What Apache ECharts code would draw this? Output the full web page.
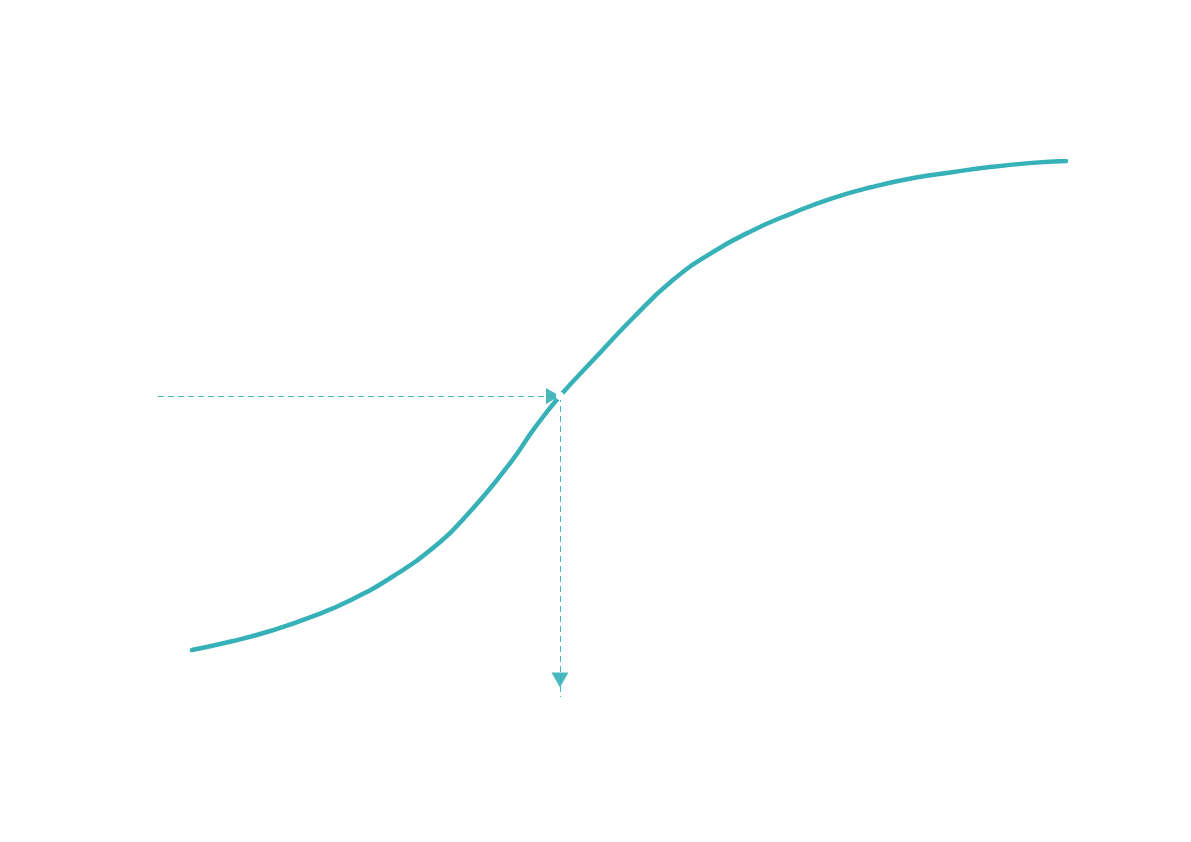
<!DOCTYPE html>
<html>
<head>
<meta charset="utf-8">
<script src="https://cdn.jsdelivr.net/npm/echarts@6/dist/echarts.min.js"></script>
<style>html,body{margin:0;padding:0;background:#fff;}#chart{width:1191px;height:842px;}</style>
</head>
<body>
<div id="chart"></div>
<script>
// Curve values (x, y on hidden 0-100 axes)
const xValues = [3.74, 8.15, 12.56, 16.96, 21.37, 25.77, 30.18, 34.58, 38.99, 41.41, 44.27, 47.80, 52.20, 56.61, 61.01, 65.42, 69.82, 74.23, 78.63, 83.04, 87.44, 91.85, 96.26, 100];
const yValues = [8.77, 10.39, 12.41, 14.98, 18.21, 22.39, 27.65, 35.00, 44.12, 50.04, 56.16, 62.63, 70.52, 77.65, 82.91, 87.00, 90.24, 93.04, 95.15, 96.79, 97.91, 98.92, 99.65, 100];
const highlightPoint = [44.27, 56.16];

const color = '#36b1b7';
const chart = echarts.init(document.getElementById('chart'));
chart.setOption({
  animation: false,
  grid: { left: 158, right: 125, top: 161, bottom: 145 },
  xAxis: { type: 'value', min: 0, max: 100, show: false },
  yAxis: { type: 'value', min: 0, max: 100, show: false },
  series: [{
    type: 'line',
    smooth: 0.5,
    showSymbol: false,
    data: xValues.map((x, i) => [x, yValues[i]]),
    lineStyle: { color: color, width: 4.5, cap: 'round' },
    itemStyle: { color: color },
    markLine: {
      silent: true,
      symbol: ['none', 'triangle'],
      symbolSize: [16, 14],
      label: { show: false },
      lineStyle: { color: color, width: 1, type: [6, 4], opacity: 0.9 },
      data: [
        [{ coord: [0, highlightPoint[1]] }, { coord: highlightPoint, symbolOffset: [0, 7] }],
        [{ coord: highlightPoint }, { coord: [highlightPoint[0], 0], symbolOffset: [0, 17], symbolSize: [17, 15] }]
      ]
    },
    markPoint: {
      silent: true,
      z: 10,
      symbol: 'circle',
      symbolSize: 8,
      itemStyle: { color: '#ffffff' },
      label: { show: false },
      data: [{ coord: highlightPoint }]
    }
  }]
});
</script>
</body>
</html>
